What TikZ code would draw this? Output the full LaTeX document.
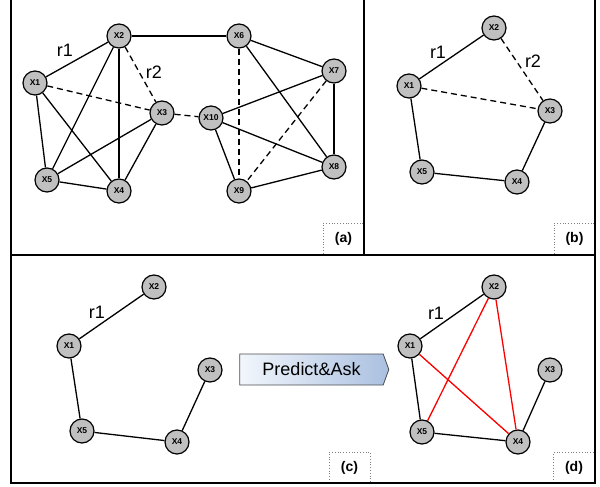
\documentclass[tikz,border=0pt]{standalone}
\usepackage{fontspec}
\setmainfont{Liberation Sans}
\usetikzlibrary{arrows, shapes, calc}
\definecolor{nodegray}{RGB}{192,192,192}
\definecolor{arrowleft}{RGB}{242,246,252}
\definecolor{arrowright}{RGB}{170,192,224}
\tikzstyle{var} = [circle, draw, fill=nodegray, line width=1.2pt, minimum size=24pt, inner sep=0pt, font=\fontsize{8.5}{9}\selectfont\bfseries]
\tikzstyle{link} = [line width=1.3pt]
\tikzstyle{guess} = [link, dash pattern=on 6pt off 4pt]
\tikzstyle{added} = [link, red]
\tikzstyle{rel} = [font=\fontsize{18}{20}\selectfont]
\tikzstyle{tag} = [draw=gray, dotted, line width=0.8pt, minimum width=41pt, minimum height=31pt, inner sep=0pt, font=\fontsize{14}{15}\selectfont\bfseries]
\tikzstyle{panel} = [line width=1.3pt]

\begin{document}
\begin{tikzpicture}[x=1pt, y=-1pt]
        \useasboundingbox (0,0) rectangle (600,487);

        % Label boxes
        \node[tag] (tag_a) at (343.5,238.5) {(a)};
        \node[tag] (tag_b) at (574.5,238.5) {(b)};
        \node[tag] (tag_c) at (349.5,467.5) {(c)};
        \node[tag] (tag_d) at (574,467.5) {(d)};

        % Panel frames
        \draw[panel] (11,0) -- (11,483) -- (595,483) -- (595,0);
        \draw[panel] (11,255) -- (595,255);
        \draw[panel] (364,0) -- (364,255);

        % Panel (a)
        \node[var] (a1) at (35,83) {X1};
        \node[var] (a2) at (119,36) {X2};
        \node[var] (a3) at (162,113) {X3};
        \node[var] (a4) at (119,191) {X4};
        \node[var] (a5) at (47,180) {X5};
        \node[var] (a6) at (239,36) {X6};
        \node[var] (a7) at (334,71) {X7};
        \node[var] (a8) at (334,167) {X8};
        \node[var] (a9) at (239,191) {X9};
        \node[var] (a10) at (211,118) {X10};
        \node[rel] (a_r1) at (65,50) {r1};
        \node[rel] (a_r2) at (154,72) {r2};

        \draw[link] (a1) -- (a2);
        \draw[link] (a1) -- (a5);
        \draw[link] (a1) -- (a4);
        \draw[guess] (a1) -- (a3);
        \draw[link] (a2) -- (a5);
        \draw[link] (a2) -- (a4);
        \draw[guess] (a2) -- (a3);
        \draw[link] (a2) -- (a6);
        \draw[link] (a3) -- (a5);
        \draw[link] (a3) -- (a4);
        \draw[guess] (a3) -- (a10);
        \draw[link] (a5) -- (a4);
        \draw[link] (a6) -- (a7);
        \draw[link] (a6) -- (a8);
        \draw[guess] (a6) -- (a9);
        \draw[link] (a7) -- (a10);
        \draw[link] (a7) -- (a8);
        \draw[guess] (a7) -- (a9);
        \draw[link] (a10) -- (a8);
        \draw[link] (a10) -- (a9);
        \draw[link] (a9) -- (a8);

        % Panel (b)
        \node[var] (b1) at (409,86) {X1};
        \node[var] (b2) at (494,28) {X2};
        \node[var] (b3) at (550,111) {X3};
        \node[var] (b4) at (517,182) {X4};
        \node[var] (b5) at (422,172) {X5};
        \node[rel] (b_r1) at (438,52) {r1};
        \node[rel] (b_r2) at (533,61) {r2};

        \draw[link] (b1) -- (b2);
        \draw[guess] (b2) -- (b3);
        \draw[guess] (b1) -- (b3);
        \draw[link] (b1) -- (b5);
        \draw[link] (b5) -- (b4);
        \draw[link] (b4) -- (b3);

        % Panel (c)
        \node[var] (c1) at (69,346) {X1};
        \node[var] (c2) at (154,287) {X2};
        \node[var] (c3) at (210,370) {X3};
        \node[var] (c4) at (177,442) {X4};
        \node[var] (c5) at (82,431) {X5};
        \node[rel] (c_r1) at (97,312) {r1};

        \draw[link] (c1) -- (c2);
        \draw[link] (c1) -- (c5);
        \draw[link] (c5) -- (c4);
        \draw[link] (c4) -- (c3);

        % Predict and ask step
        \node[signal, signal to=east, signal pointer angle=140, draw=black!70, line width=0.8pt, left color=arrowleft, right color=arrowright, minimum width=149pt, minimum height=31pt, inner sep=0pt, font=\fontsize{18}{20}\selectfont] (predict) at (311.5,369.5) {Predict\&Ask};

        % Panel (d)
        \node[var] (d1) at (410,346) {X1};
        \node[var] (d2) at (494,287) {X2};
        \node[var] (d3) at (550,370) {X3};
        \node[var] (d4) at (518,442) {X4};
        \node[var] (d5) at (422,432) {X5};
        \node[rel] (d_r1) at (436,313) {r1};

        \draw[link] (d1) -- (d2);
        \draw[link] (d1) -- (d5);
        \draw[link] (d5) -- (d4);
        \draw[link] (d4) -- (d3);
        \draw[added] (d2) -- (d5);
        \draw[added] (d1) -- (d4);
        \draw[added] (d2) -- (d4);
    \end{tikzpicture}
\end{document}
